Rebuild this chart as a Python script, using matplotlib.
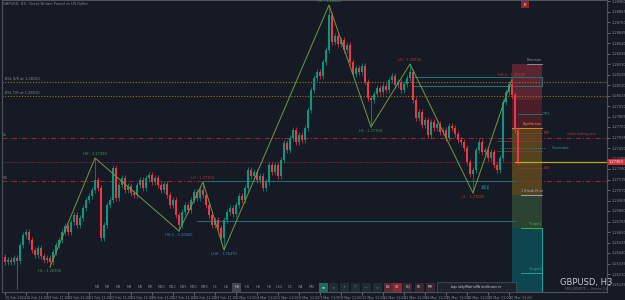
#GBPUSD H3 chart with zigzag swings and liquidity levels

import numpy as np
import matplotlib
matplotlib.use("Agg")
import matplotlib.pyplot as plt
from matplotlib.patches import Rectangle
from matplotlib.transforms import blended_transform_factory

BG = "#161a25"
UP = "#089981"
DOWN = "#f23645"
GRAY = "#868993"

# H3 candle closes (open of each candle = previous close)
first_open = 1.2640
closes = [1.2635, 1.2637, 1.2635, 1.2639, 1.2636, 1.2652, 1.2662, 1.2665, 1.2657, 1.2647,
          1.2642, 1.2649, 1.2641, 1.2637, 1.2639, 1.2635, 1.2645, 1.2652, 1.2657, 1.2665,
          1.2671, 1.2665, 1.2675, 1.2682, 1.2672, 1.2679, 1.2689, 1.2697, 1.2701, 1.2707,
          1.2717, 1.2709, 1.2659, 1.2672, 1.2692, 1.2697, 1.2729, 1.2699, 1.2712, 1.2719,
          1.2707, 1.2711, 1.2704, 1.2702, 1.2712, 1.2717, 1.2709, 1.2719, 1.2722, 1.2715,
          1.2719, 1.2712, 1.2707, 1.2713, 1.2702, 1.2692, 1.2697, 1.2682, 1.2672, 1.2685,
          1.2692, 1.2687, 1.2697, 1.2705, 1.2699, 1.2707, 1.2702, 1.2692, 1.2682, 1.2672,
          1.2677, 1.2669, 1.2659, 1.2677, 1.2685, 1.2689, 1.2683, 1.2692, 1.2701, 1.2697,
          1.2709, 1.2727, 1.2721, 1.2725, 1.2717, 1.2721, 1.2709, 1.2715, 1.2732, 1.2725,
          1.2732, 1.2721, 1.2737, 1.2754, 1.2747, 1.2759, 1.2767, 1.2755, 1.2762, 1.2757,
          1.2769, 1.2787, 1.2807, 1.2819, 1.2825, 1.2821, 1.2835, 1.2847, 1.2882, 1.2855,
          1.2861, 1.2853, 1.2857, 1.2847, 1.2852, 1.2835, 1.2823, 1.2829, 1.2825, 1.2831,
          1.2815, 1.2799, 1.2797, 1.2803, 1.2809, 1.2805, 1.2811, 1.2807, 1.2817, 1.2821,
          1.2812, 1.2815, 1.2807, 1.2813, 1.2819, 1.2825, 1.2797, 1.2779, 1.2785, 1.2772,
          1.2777, 1.2762, 1.2775, 1.2769, 1.2773, 1.2765, 1.2767, 1.2759, 1.2771, 1.2769,
          1.2763, 1.2757, 1.2755, 1.2749, 1.2735, 1.2723, 1.2727, 1.2747, 1.2755, 1.2745,
          1.2747, 1.2739, 1.2745, 1.2732, 1.2727, 1.2739, 1.2795, 1.2805, 1.2813, 1.2802,
          1.2767, 1.2735]
# wicks that stick out further than the usual few pips
wick_high = {30: 1.2739, 66: 1.2715, 108: 1.2892, 135: 1.2833, 169: 1.2818}
wick_low = {4: 1.2608, 15: 1.2630, 58: 1.2666, 73: 1.2647, 122: 1.2770, 156: 1.2704}
wick = 0.0003

# zigzag swing points
zz_idx = [15, 30, 58, 66, 73, 108, 122, 135, 156, 169]
zz_price = [1.2630, 1.2739, 1.2666, 1.2715, 1.2647, 1.2892, 1.2770, 1.2833, 1.2704, 1.2818]
zz_name = ["HL", "HH", "HH-C", "LH", "LHH", "HH", "HL", "LH", "LL", "HH 2"]
zz_col = ["#3f9a45", "#3f9a45", "#3d7fc4", "#c0392b", "#3d7fc4", "#3f9a45", "#3f9a45",
          "#c0392b", "#c0392b", "#c0392b"]
zz_up = [False, True, False, True, False, True, False, True, False, True]

# levels
bsl_levels = [1.2815, 1.2801]
bsl_names = ["BSL S/R at 1.28150", "BSL T/R at 1.28010"]
sl_level = 1.2759
mid_level = 1.2735
sr_level = 1.2716
teal_levels = [1.2716, 1.2676]
teal_start = [66, 64]
last_price = 1.2735

# time axis labels, one every 7 bars
time_labels = ["15 Feb 2024", "16 Feb 11:00", "19 Feb 11:00", "20 Feb 11:00", "21 Feb 11:00",
               "22 Feb 11:00", "23 Feb 11:00", "26 Feb 11:00", "27 Feb 11:00", "28 Feb 11:00",
               "29 Feb 11:00", "1 Mar 11:00", "4 Mar 11:00", "5 Mar 11:00", "6 Mar 11:00",
               "7 Mar 11:00", "8 Mar 11:00", "11 Mar 11:00", "12 Mar 11:00", "13 Mar 11:00",
               "14 Mar 11:00", "15 Mar 11:00", "18 Mar 11:00", "19 Mar 11:00", "20 Mar 11:00"]

timeframes = ["M1", "M2", "M3", "M4", "M5", "M6", "M10", "M12", "M15", "M20", "M30",
              "H1", "H2", "H3", "H4", "H6", "H8", "H12", "D1", "W1", "MN"]


fig = plt.figure(figsize=(6.25, 3.0), dpi=100, facecolor=BG)
ax = fig.add_axes([2/625, 8/300, 605/625, 292/300], facecolor=BG)
ax.set_xlim(-1, 200.67)
ax.set_ylim(1.2605, 1.2897)

# horizontal levels
for lv, name in zip(bsl_levels, bsl_names):
    ax.axhline(lv, color="#8c7a1e", lw=0.8, ls=(0, (1, 1.5)), zorder=1)
    ax.text(0, lv + 0.00012, name, fontsize=2.6, color=GRAY, va="bottom")
ax.axhline(sl_level, color="#9b2c35", lw=0.7, ls=(0, (5, 2, 1, 2)), zorder=1)
ax.text(-0.6, sl_level + 0.0001, "SL", fontsize=2.6, color=GRAY, va="bottom")
ax.plot([-1, 170], [mid_level, mid_level], color="#9b2c35", lw=0.7, ls=(0, (1, 1.5)), zorder=1)
ax.axhline(sr_level, color="#9b2c35", lw=0.7, ls=(0, (5, 2, 1, 2)), zorder=1)
ax.text(-0.6, sr_level + 0.0001, "SR", fontsize=2.6, color=GRAY, va="bottom")
for lv, st in zip(teal_levels, teal_start):
    ax.plot([st, 170], [lv, lv], color="#1f6b6e", lw=0.8, zorder=1)
ax.plot([170, 201], [last_price, last_price], color="#b8a91f", lw=0.9, zorder=1)

# position tool box on the right
bx0, bx1 = 169, 179
zones = [(1.2797, 1.2833, "#5b2430"), (1.2769, 1.2797, "#4a1d28"), (1.2702, 1.2769, "#53441f"),
         (1.2669, 1.2702, "#2b4330"), (1.2605, 1.2669, "#0e4650")]
for lo, hi, c in zones:
    ax.add_patch(Rectangle((bx0, lo), bx1 - bx0, hi - lo, fc=c, ec="none", zorder=0.5))
ax.plot([bx1, bx1], [1.2605, 1.2669], color="#1fa0a0", lw=0.8, zorder=2)
ax.plot([174, bx1], [1.2833, 1.2833], color="#9598a1", lw=0.6)
ax.text(176.5, 1.2835, "Premium", fontsize=2.4, color="#9598a1", ha="center", va="bottom")
ax.plot([bx0, bx1], [1.2769, 1.2769], color="#d18b1f", lw=0.7)
ax.text(175.7, 1.2771, "Equilibrium", fontsize=2.4, color="#e0962a", ha="center", va="bottom")
ax.plot([172, bx1], [1.2702, 1.2702], color="#b0b3bb", lw=0.6)
ax.text(175.7, 1.2704, "1 Break Price", fontsize=2.4, color="#b0b3bb", ha="center", va="bottom")
ax.plot([172, bx1], [1.2669, 1.2669], color="#3fae4a", lw=0.7)
ax.text(176.7, 1.2671, "Target1", fontsize=2.4, color="#3fae4a", ha="center", va="bottom")
ax.plot([172, bx1], [1.2624, 1.2624], color="#1fa0a0", lw=0.7)
ax.text(176.7, 1.2626, "Target2", fontsize=2.4, color="#1fa0a0", ha="center", va="bottom")

# small marker lines next to the box
ax.plot([171, bx1], [1.2783, 1.2783], color="#1f8a8a", lw=0.5)
ax.text(179.5, 1.2783, "TP3", fontsize=2.4, color="#1fa0a0", va="center")
ax.plot([171, bx1], [1.2764, 1.2764], color="#a0303a", lw=0.5)
ax.text(179.5, 1.2764, "ETP", fontsize=2.4, color="#d04050", va="center")
ax.text(187.2, 1.2763, "Inside trading zone", fontsize=2.2, color="#c0303e", va="center")
ax.plot([164, bx1], [1.2756, 1.2756], color="#a0303a", lw=0.5)
ax.plot([164, bx1], [1.2746, 1.2746], color="#a0303a", lw=0.5)
ax.plot([165, 180], [1.2749, 1.2749], color="#1fa0a0", lw=0.6, ls=(0, (1, 1.5)))
ax.text(182.3, 1.2749, "Sustainable", fontsize=2.2, color="#1fa0a0", va="center")
ax.plot([171, bx1], [1.2729, 1.2729], color="#a0303a", lw=0.5)
ax.text(179.5, 1.2729, "LSS", fontsize=2.4, color="#d04050", va="center")
ax.add_patch(Rectangle((136, 1.2811), 43, 0.0009, fc="none", ec="#1f7a7a", lw=0.7, zorder=2))

# candles
opens = [first_open] + closes[:-1]
for i in range(len(closes)):
    o, c = opens[i], closes[i]
    col = UP if c >= o else DOWN
    hi = wick_high.get(i, max(o, c) + wick)
    lo = wick_low.get(i, min(o, c) - wick)
    ax.vlines(i, lo, hi, color=col, lw=0.5, zorder=3)
    ax.bar(i, max(abs(c - o), 0.00006), bottom=min(o, c), width=0.7, color=col, lw=0, zorder=3)

# zigzag and swing labels
ax.plot(zz_idx, zz_price, color="#6f9a45", lw=0.7, zorder=4)
for i, p, n, c, up in zip(zz_idx, zz_price, zz_name, zz_col, zz_up):
    ax.annotate(f"{n} : {p:.5f}", (i, p), xytext=(0, 3.2 if up else -3.2),
                textcoords="offset points", ha="center", va="center",
                fontsize=2.6, color=c, zorder=5, annotation_clip=False)
ax.text(160.3, 1.2710, "$$$", fontsize=3.5, color="#1fa0a0", style="italic", ha="center", va="center")

# axes look
for s in ax.spines.values():
    s.set_color("#50535e")
    s.set_linewidth(0.8)
ax.yaxis.tick_right()
ticks = [1.28960 - 0.00105 * n for n in range(28)]
ax.set_yticks(ticks)
ax.set_yticklabels([f"{t:.5f}" for t in ticks])
ax.tick_params(axis="y", colors=GRAY, labelsize=2.6, length=2, width=0.5, pad=1)
ax.set_xticks([7 * k for k in range(len(time_labels))])
ax.set_xticklabels(time_labels, ha="left")
ax.tick_params(axis="x", colors=GRAY, labelsize=2.4, length=2, width=0.5, pad=0.8)

tr = blended_transform_factory(ax.transAxes, ax.transData)
ax.text(1.003, last_price, "1.27350", transform=tr, fontsize=2.6, color="white",
        va="center", ha="left", clip_on=False,
        bbox=dict(boxstyle="square,pad=0.3", fc="#d32f3a", ec="none"))


def fig_text(x, y, s, **kw):
    fig.text(x / 625, 1 - y / 300, s, **kw)


def button(cx, s, fc, tc):
    fig.add_artist(Rectangle(((cx - 4.5) / 625, (300 - 291.5) / 300), 9 / 625, 9 / 300,
                             transform=fig.transFigure, fc=fc, ec="none"))
    fig_text(cx, 287, s, fontsize=2.6, color=tc, ha="center", va="center")


fig_text(3, 4, "GBPUSD, H3:  Great Britain Pound vs US Dollar", fontsize=2.6, color=GRAY, va="center")

# red E button at the top
fig.add_artist(Rectangle((521 / 625, 1 - 8 / 300), 8 / 625, 7 / 300, transform=fig.transFigure,
                         fc="#8b2530", ec="none"))
fig_text(525, 4.5, "E", fontsize=3, color="white", ha="center", va="center")

# timeframe buttons row
for k, tf in enumerate(timeframes):
    cx = 97 + 10.75 * k
    if tf == "H3":
        button(cx, tf, "#434651", "#d1d4dc")
    else:
        fig_text(cx, 287, tf, fontsize=2.6, color=GRAY, ha="center", va="center")
button(323, "≡", "#1e6b5c", "#d1d4dc")
for cx, s in zip([333, 344, 355, 366, 377], ["<", "+", "◇", "—", ">"]):
    button(cx, s, "#1d2d33", "#9598a1")
button(388, "ES", "#5a2a30", "#d1d4dc")
button(397, "SY", "#8b2a30", "#d1d4dc")
for cx, s in zip([408, 419, 430], ["LQ", "PE", "RR"]):
    button(cx, s, "#3a2630", "#d1d4dc")
fig.add_artist(Rectangle((437 / 625, (300 - 292) / 300), 79 / 625, 10 / 300,
                         transform=fig.transFigure, fc="#1e222d", ec="#50535e", lw=0.5))
fig_text(476, 287, "$ Liquidity Matrix Market Scanner $", fontsize=2.4, color="#c8cad0",
         ha="center", va="center")

# symbol watermark bottom right
fig_text(586, 282, "GBPUSD, H3", fontsize=6, color="#c8cad0", ha="center", va="center")
fig_text(586, 289.5, "SMCGROUP79 — Version 3.4", fontsize=2.2, color="#6a6d78", ha="center", va="center")

fig.savefig("out.png", dpi=100, facecolor=BG)
